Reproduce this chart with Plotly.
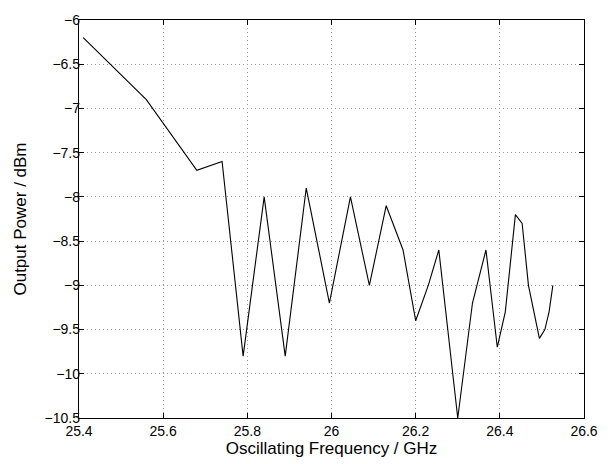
import plotly.graph_objects as go

freq_ghz = [25.41, 25.56, 25.68, 25.74, 25.79, 25.84, 25.89, 25.94, 25.995, 26.045,
            26.09, 26.13, 26.17, 26.20, 26.23, 26.255, 26.30, 26.335, 26.367, 26.394,
            26.413, 26.437, 26.453, 26.468, 26.494, 26.507, 26.517, 26.526]
power_dbm = [-6.2, -6.9, -7.7, -7.6, -9.8, -8.0, -9.8, -7.9, -9.2, -8.0,
             -9.0, -8.1, -8.6, -9.4, -9.0, -8.6, -10.5, -9.2, -8.6, -9.7,
             -9.3, -8.2, -8.3, -9.0, -9.6, -9.5, -9.3, -9.0]

x_ticks = [25.4, 25.6, 25.8, 26.0, 26.2, 26.4, 26.6]
x_tick_labels = ["25.4", "25.6", "25.8", "26", "26.2", "26.4", "26.6"]
y_ticks = [-6, -6.5, -7, -7.5, -8, -8.5, -9, -9.5, -10, -10.5]
y_tick_labels = ["\u22126", "\u22126.5", "\u22127", "\u22127.5", "\u22128", "\u22128.5",
                 "\u22129", "\u22129.5", "\u221210", "\u221210.5"]
x_title = "Oscillating Frequency / GHz"
y_title = "Output Power / dBm"

fig = go.Figure()
fig.add_trace(go.Scatter(x=freq_ghz, y=power_dbm, mode="lines",
                         line=dict(color="black", width=1.1), cliponaxis=True,
                         showlegend=False))

font_family = "Liberation Sans, Arial, Helvetica, sans-serif"
axis_common = dict(
    showline=True, linecolor="black", linewidth=1.3, mirror="ticks",
    ticks="inside", ticklen=5, tickcolor="black", tickwidth=1,
    showgrid=True, gridcolor="#9a9a9a", griddash="1px,3px", gridwidth=1,
    zeroline=False, tickfont=dict(family=font_family, size=14, color="black"),
)

fig.update_layout(
    width=610, height=464,
    margin=dict(l=79, r=16, t=14, b=45),
    paper_bgcolor="white", plot_bgcolor="white",
    font=dict(family=font_family, color="black"),
    xaxis=dict(range=[25.4, 26.6], tickvals=x_ticks, ticktext=x_tick_labels,
               ticklabelstandoff=0,
               title=dict(text=x_title, font=dict(size=17, family=font_family),
                          standoff=1),
               **axis_common),
    yaxis=dict(range=[-10.5, -6], tickvals=y_ticks, ticktext=y_tick_labels,
               ticklabelstandoff=-5,
               title=dict(text=y_title,
                          font=dict(size=17, family=font_family), standoff=13),
               **axis_common),
)

fig.write_html("out.html", config={"displayModeBar": False},
               post_script="document.body.style.margin='0';document.body.style.overflow='hidden';")
